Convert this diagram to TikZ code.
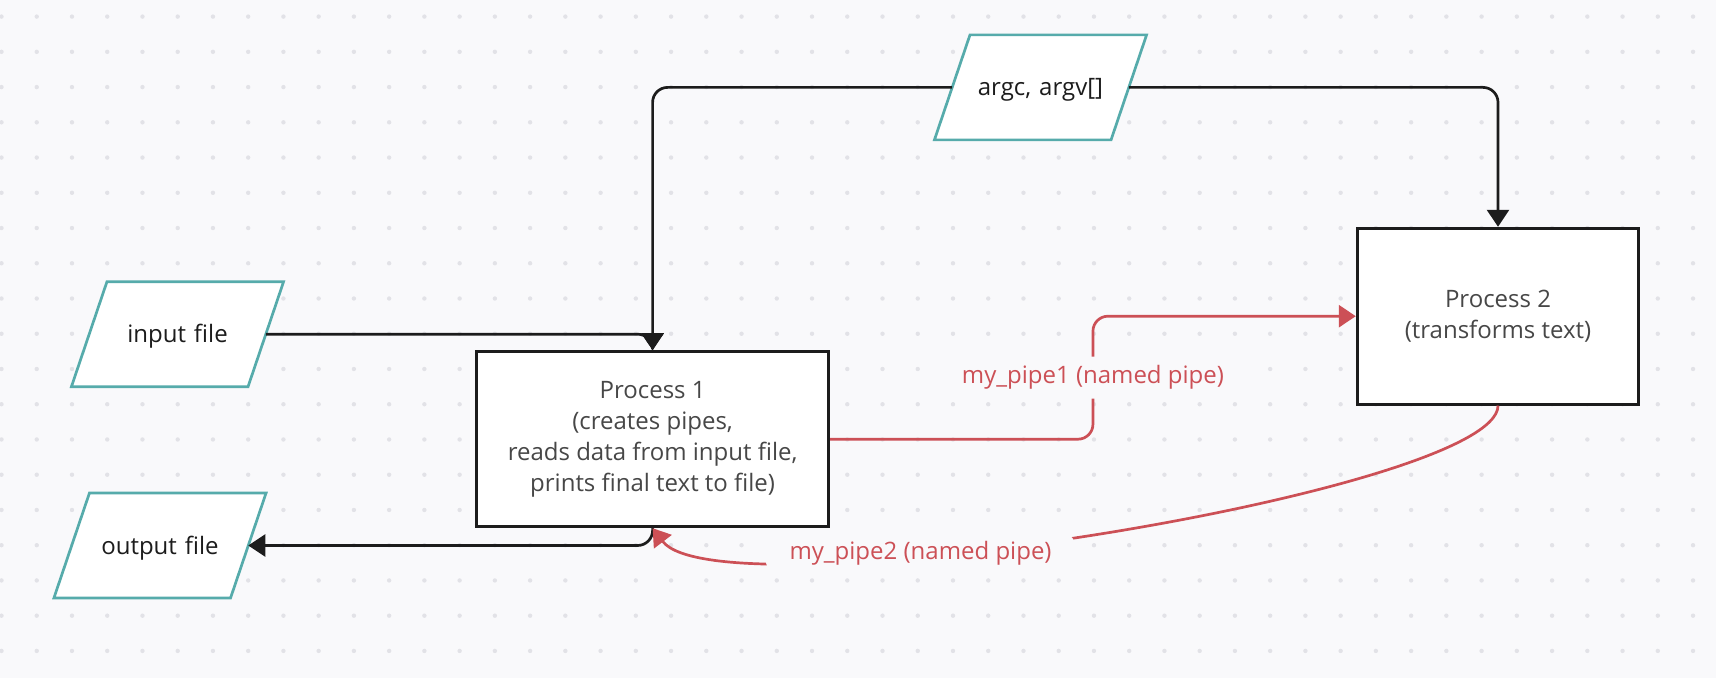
\documentclass[tikz,border=0pt]{standalone}
\usepackage{fontspec}
\setmainfont{Open Sans}
\usetikzlibrary{shapes.geometric,arrows.meta,calc}
\definecolor{bgc}{HTML}{F9F9FB}
\definecolor{dotc}{HTML}{E2E2E7}
\definecolor{tealc}{HTML}{56ABAB}
\definecolor{redc}{HTML}{CC5056}
\definecolor{inkc}{HTML}{1C1C1C}
\definecolor{procc}{HTML}{474747}
\begin{document}
\begin{tikzpicture}[x=0.5pt,y=-0.5pt,
  txt/.style={font=\fontsize{12}{15.5}\selectfont},
  io/.style={trapezium, trapezium left angle=71.3, trapezium right angle=108.7,
    minimum width=0pt, minimum height=0pt,
    text width=66pt, align=center, text height=11pt, text depth=2.5pt,
    inner xsep=2.27pt, inner ysep=19.5pt, outer sep=0pt,
    draw=tealc, line width=1.35pt, fill=white, text=inkc, txt},
  proc/.style={rectangle, draw=inkc, line width=1.5pt, fill=white, text=procc,
    align=center, inner sep=0pt, txt},
  conn/.style={draw=inkc, line width=1.35pt, rounded corners=7.5pt,
    -{Triangle[length=8.5pt,width=11pt]}},
  pipe/.style={draw=redc, line width=1.35pt, rounded corners=7.5pt,
    -{Triangle[length=8.5pt,width=11pt]}},
  lbl/.style={fill=bgc, text=redc, txt, inner xsep=12pt, inner ysep=0pt,
    minimum height=21pt}
]
\fill[bgc] (0,0) rectangle (1716,678);
\useasboundingbox (0,0) rectangle (1716,678);
\foreach \i in {0,...,48}{
  \foreach \j in {0,...,18}{
    \fill[dotc] ({1.5+35.24*\i},{16.6+35.24*\j}) circle[radius=1.1pt];
  }
}
% nodes
\node[io] (argc) at (1040.5,87.4) {argc, argv[]};
\node[io] (input) at (177.5,334.2) {input file};
\node[io] (output) at (160,545.5) {output file};
\node[proc, minimum width=176pt, minimum height=87.5pt] (p1) at (652.6,439.2)
  {Process 1\\(creates pipes,\\reads data from input file,\\prints final text to file)};
\node[proc, minimum width=140.7pt, minimum height=87.9pt] (p2) at (1498,316.2)
  {Process 2\\(transforms text)};
% black connectors
\draw[conn] (argc.left side) -| (p1.north);
\draw[conn] (argc.right side) -| (p2.north);
\draw[conn] (input.right side) -| (p1.north);
\draw[conn] (p1.south) |- (output.right side);
% red pipes
\draw[pipe] (p1.east) -| ($(p1.east)!0.5!(p2.west)$)
  node[lbl] (l1) {my\_pipe1 (named pipe)} |- (p2.west);
\draw[pipe] (p2.south) .. controls ($(p2.south)+(0,86)$) and ($(p1.south)+(67,88)$) .. (p1.south)
  node[pos=0.65, lbl] (l2) {my\_pipe2 (named pipe)};
\end{tikzpicture}
\end{document}
